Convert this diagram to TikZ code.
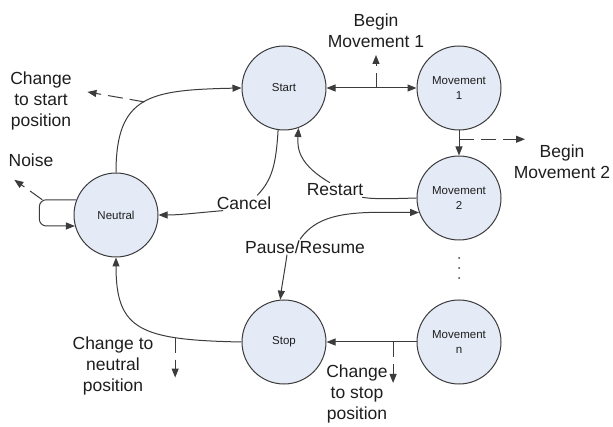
\documentclass[tikz,border=0pt]{standalone}
\usepackage{fontspec}
\setmainfont{Liberation Sans}
\usetikzlibrary{arrows.meta,calc}
\definecolor{stfill}{RGB}{228,234,246}
\definecolor{stline}{RGB}{60,60,60}
\definecolor{txt}{RGB}{30,30,30}
\begin{document}
\begin{tikzpicture}[x=1pt,y=-1pt,
  state/.style={circle,draw=stline,fill=stfill,line width=1pt,minimum size=84pt,inner sep=0pt,align=center,font=\fontsize{11.5}{15.5}\selectfont,text=txt},
  lbl/.style={align=center,font=\fontsize{17.5}{21}\selectfont,text=txt,inner sep=1pt},
  tip/.tip={Triangle[length=9pt,width=7pt]},
  edge/.style={draw=stline,line width=1pt,-tip},
  plain/.style={draw=stline,line width=1pt},
  side/.style={draw=stline,line width=1pt,dash pattern=on 15pt off 7pt,-tip}]
\path (0,0) rectangle (613,427);
% states
\node[state] (start) at (284,88) {Start};
\node[state] (m1) at (459,88) {Movement\\1};
\node[state] (m2) at (459,198) {Movement\\2};
\node[state] (neutral) at (116,215) {Neutral};
\node[state] (stop) at (284,342) {Stop};
\node[state] (mn) at (459,342) {Movement\\n};
% labels
\node[lbl] (bm1) at (376,31) {Begin\\Movement 1};
\node[lbl] (bm2) at (562,162) {Begin\\Movement 2};
\node[lbl] (cts) at (41,101) {Change\\to start\\position};
\node[lbl] (noise) at (31,160) {Noise};
\node[lbl] (cancel) at (244,203) {Cancel};
\node[lbl] (restart) at (335,190) {Restart};
\node[lbl] (pause) at (305,247) {Pause/Resume};
\node[lbl] (ctn) at (113,366) {Change to\\neutral\\position};
\node[lbl] (ctst) at (357,394) {Change\\to stop\\position};
% Start <-> Movement 1
\draw[edge,tip-tip] (start) -- (m1);
\path (start.east) -- (m1.west) coordinate[pos=0.55] (t1);
\draw[side] (t1) -- +(0,-33);
% Movement 1 -> Movement 2
\draw[edge] (m1) -- (m2);
\path (m1.south) -- (m2.north) coordinate[pos=0.35] (t2);
\draw[side] (t2) -- +(66,0);
% Neutral -> Start
\draw[edge] (neutral.north) .. controls (116,95) and (150,90) .. coordinate[pos=0.5] (t3) (start.west);
\draw[side] (t3) -- +(-57,-10);
% Noise loop
\draw[edge,rounded corners=7pt] (neutral.159) -- ++(-37,0) |- (neutral.195);
\coordinate (t4) at ($(neutral.159)+(-34,0)$);
\draw[side] (t4) -- +(-28,-20);
% Cancel
\draw[plain] (start.-98) .. controls (276,165) and (272,180) .. (cancel.30);
\draw[edge] (cancel.200) .. controls (195,213) and (180,215) .. (neutral.east);
% Restart
\draw[plain] (m2.west) .. controls (385,199) and (372,199) .. (restart.-15);
\draw[edge] (restart.125) .. controls (300,165) and (297,150) .. (start.-70);
% Pause/Resume
\draw[edge] ($(pause.north)+(-5,0)$) .. controls (320,210) and (360,212) .. (m2.200);
\draw[edge] ($(pause.south)+(-18,0)$) .. controls (284,275) and (282,285) .. (stop.95);
% Stop -> Neutral
\draw[edge] (stop.west) .. controls (140,340) and (116,330) .. coordinate[pos=0.27] (t5) (neutral.south);
\draw[side] (t5) -- +(0,40);
% Movement n -> Stop
\draw[edge] (mn) -- (stop);
\path (mn.west) -- (stop.east) coordinate[pos=0.26] (t6);
\draw[side] (t6) -- +(0,41);
% dots
\foreach \yy in {258,268,278} \fill[stline] (459,\yy) circle (1pt);
\end{tikzpicture}
\end{document}
